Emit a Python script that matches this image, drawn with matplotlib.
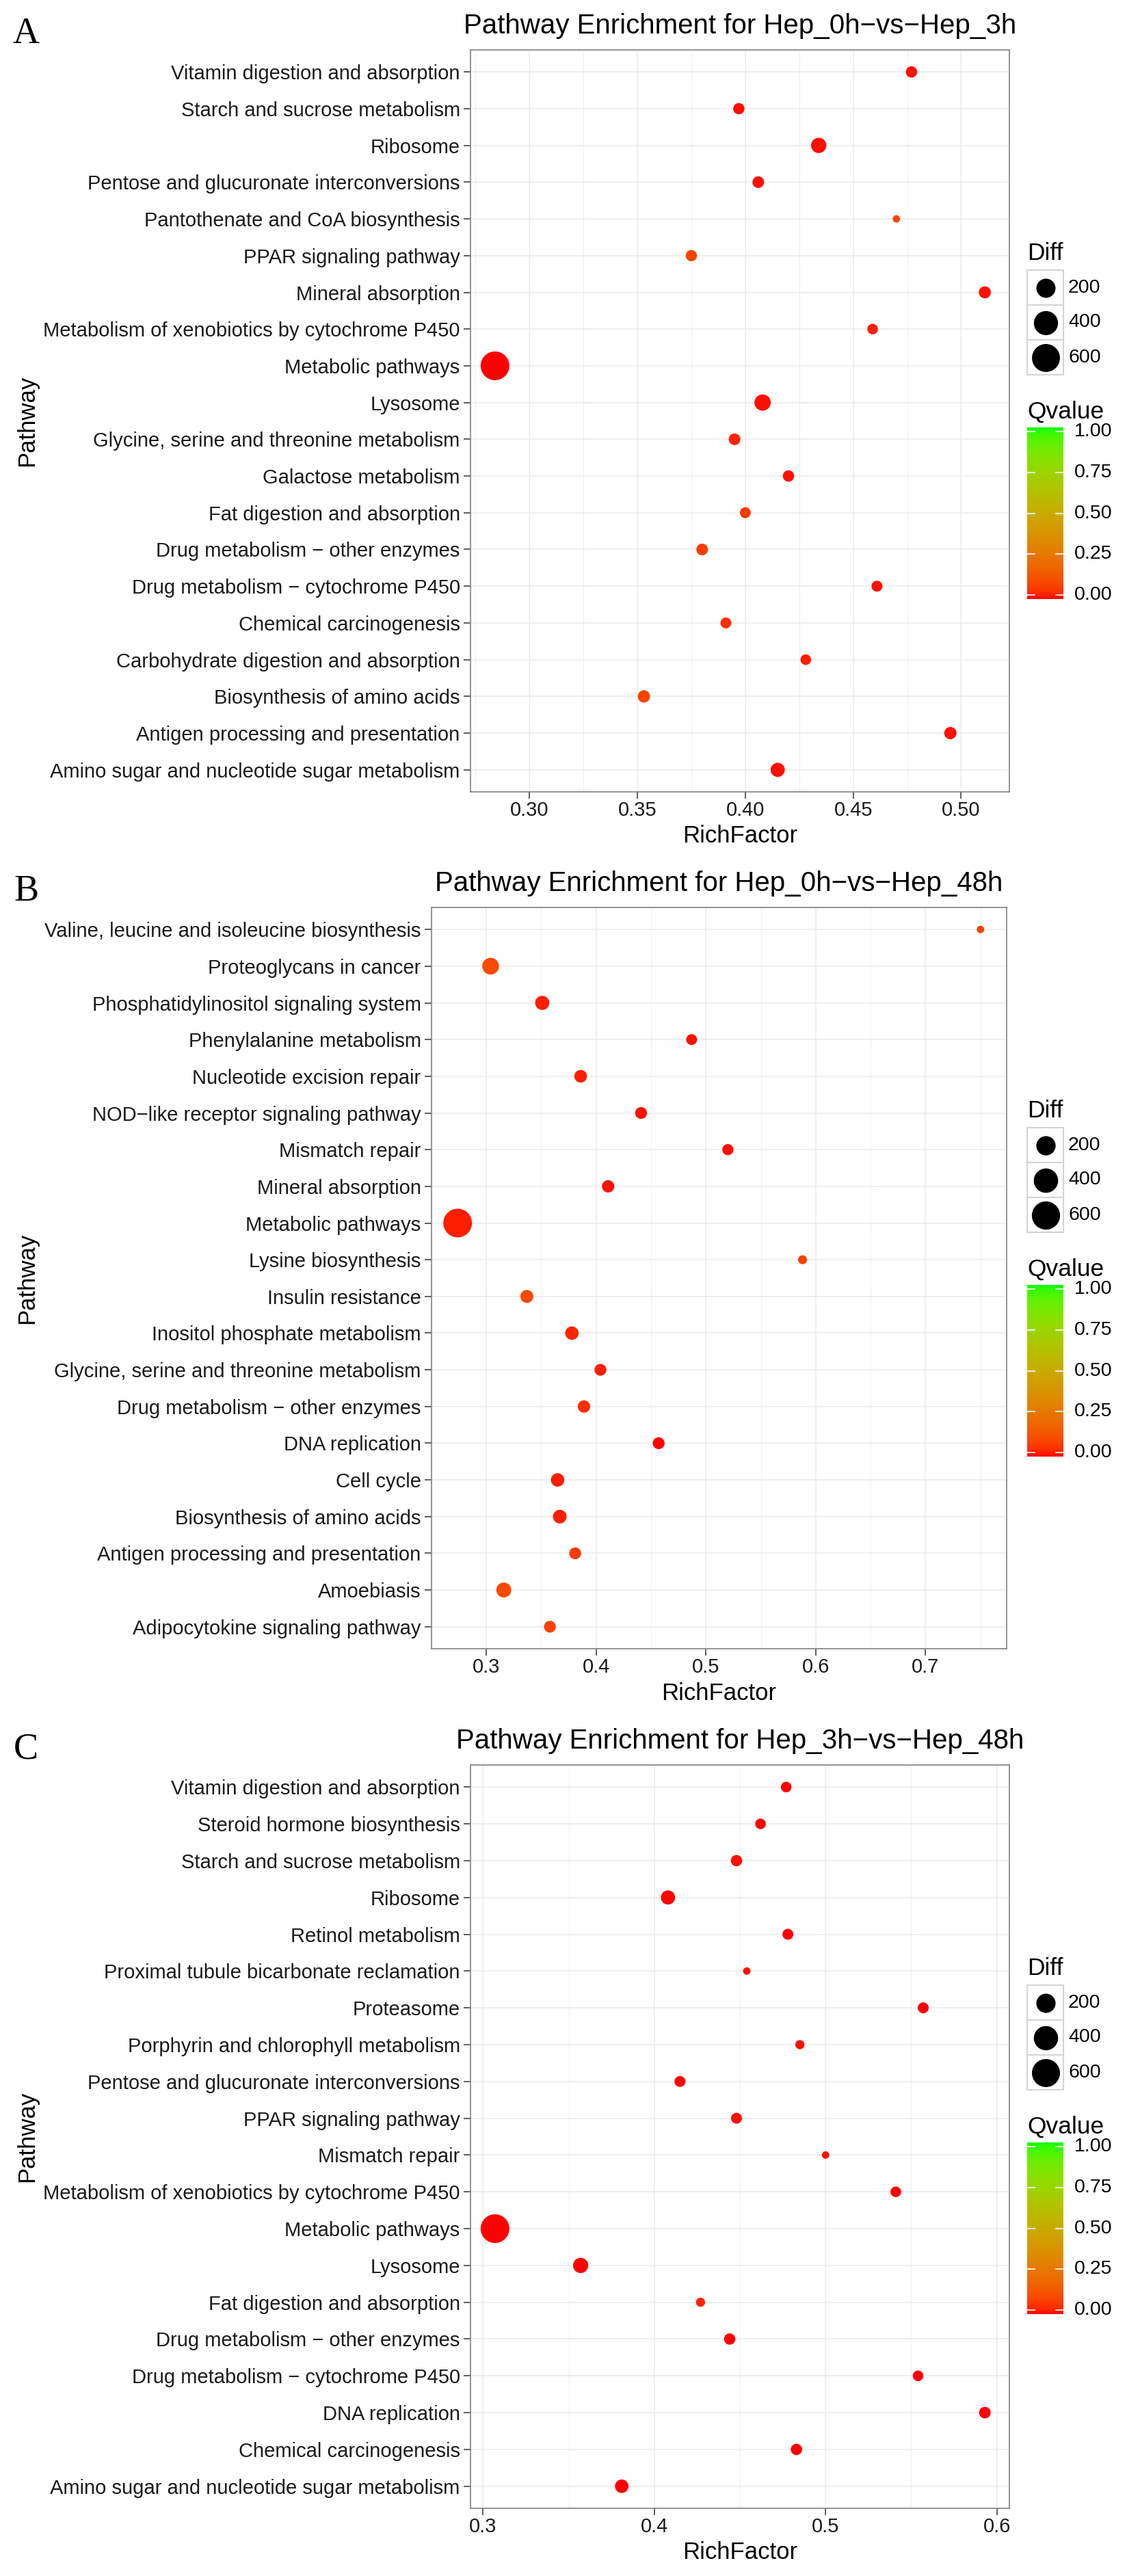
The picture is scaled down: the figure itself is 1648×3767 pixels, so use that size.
import numpy as np
import matplotlib
matplotlib.use("Agg")
import matplotlib.pyplot as plt
from matplotlib.colors import ListedColormap
from matplotlib.ticker import MultipleLocator, FormatStrFormatter
from matplotlib.patches import Rectangle

plt.rcParams['font.family'] = ['Liberation Sans', 'DejaVu Sans']

DPI = 100
W, H = 1648, 3767

# ---------------- data (top row first) ----------------
pathways_a = ["Vitamin digestion and absorption", "Starch and sucrose metabolism", "Ribosome",
              "Pentose and glucuronate interconversions", "Pantothenate and CoA biosynthesis",
              "PPAR signaling pathway", "Mineral absorption",
              "Metabolism of xenobiotics by cytochrome P450", "Metabolic pathways", "Lysosome",
              "Glycine, serine and threonine metabolism", "Galactose metabolism",
              "Fat digestion and absorption", "Drug metabolism \u2212 other enzymes",
              "Drug metabolism \u2212 cytochrome P450", "Chemical carcinogenesis",
              "Carbohydrate digestion and absorption", "Biosynthesis of amino acids",
              "Antigen processing and presentation", "Amino sugar and nucleotide sugar metabolism"]
rich_a = [0.477, 0.397, 0.434, 0.406, 0.470, 0.375, 0.511, 0.459, 0.284, 0.408,
          0.395, 0.420, 0.400, 0.380, 0.461, 0.391, 0.428, 0.353, 0.495, 0.415]
diff_a = [29, 29, 94, 33, 8, 29, 38, 22, 645, 118, 33, 29, 25, 33, 25, 25, 22, 41, 41, 71]
q_a = [0.01, 0.01, 0.01, 0.01, 0.09, 0.09, 0.01, 0.02, 0.0, 0.01,
       0.03, 0.01, 0.07, 0.07, 0.01, 0.05, 0.02, 0.08, 0.01, 0.01]

pathways_b = ["Valine, leucine and isoleucine biosynthesis", "Proteoglycans in cancer",
              "Phosphatidylinositol signaling system", "Phenylalanine metabolism",
              "Nucleotide excision repair", "NOD\u2212like receptor signaling pathway",
              "Mismatch repair", "Mineral absorption", "Metabolic pathways", "Lysine biosynthesis",
              "Insulin resistance", "Inositol phosphate metabolism",
              "Glycine, serine and threonine metabolism", "Drug metabolism \u2212 other enzymes",
              "DNA replication", "Cell cycle", "Biosynthesis of amino acids",
              "Antigen processing and presentation", "Amoebiasis", "Adipocytokine signaling pathway"]
rich_b = [0.750, 0.304, 0.351, 0.487, 0.386, 0.441, 0.520, 0.411, 0.274, 0.588,
          0.337, 0.378, 0.404, 0.389, 0.457, 0.365, 0.367, 0.381, 0.316, 0.358]
diff_b = [6, 125, 68, 22, 43, 33, 25, 39, 630, 9, 48, 55, 33, 39, 33, 55, 59, 33, 83, 33]
q_b = [0.08, 0.10, 0.02, 0.01, 0.02, 0.01, 0.01, 0.01, 0.02, 0.08,
       0.10, 0.03, 0.02, 0.04, 0.0, 0.02, 0.02, 0.07, 0.10, 0.08]

pathways_c = ["Vitamin digestion and absorption", "Steroid hormone biosynthesis",
              "Starch and sucrose metabolism", "Ribosome", "Retinol metabolism",
              "Proximal tubule bicarbonate reclamation", "Proteasome",
              "Porphyrin and chlorophyll metabolism", "Pentose and glucuronate interconversions",
              "PPAR signaling pathway", "Mismatch repair",
              "Metabolism of xenobiotics by cytochrome P450", "Metabolic pathways", "Lysosome",
              "Fat digestion and absorption", "Drug metabolism \u2212 other enzymes",
              "Drug metabolism \u2212 cytochrome P450", "DNA replication", "Chemical carcinogenesis",
              "Amino sugar and nucleotide sugar metabolism"]
rich_c = [0.477, 0.462, 0.448, 0.408, 0.478, 0.454, 0.557, 0.485, 0.415, 0.448,
          0.500, 0.541, 0.307, 0.357, 0.427, 0.444, 0.554, 0.593, 0.483, 0.381]
diff_c = [19, 19, 26, 68, 22, 5, 22, 9, 22, 22, 5, 19, 640, 90, 9, 26, 19, 29, 26, 56]
q_c = [0.0, 0.0, 0.01, 0.0, 0.0, 0.01, 0.0, 0.01, 0.0, 0.01,
       0.01, 0.0, 0.0, 0.0, 0.03, 0.0, 0.0, 0.0, 0.0, 0.0]

size_breaks = [200, 400, 600]
q_breaks = [0.0, 0.25, 0.5, 0.75, 1.0]

# text sizes (pt at 100 dpi)
FS_TICK = 21
FS_AXIS = 25
FS_TITLE = 29
FS_LEGT = 25.5
FS_LEGL = 20.5


# ---------------- red -> green ramp in Lab space ----------------
M = np.array([[0.4124, 0.3576, 0.1805],
              [0.2126, 0.7152, 0.0722],
              [0.0193, 0.1192, 0.9505]])
WHITE = np.array([0.95047, 1.0, 1.08883])


def to_lab(rgb):
    rgb = np.asarray(rgb, float)
    lin = np.where(rgb <= 0.04045, rgb / 12.92, ((rgb + 0.055) / 1.055) ** 2.4)
    xyz = M @ lin / WHITE
    f = np.where(xyz > 0.008856, np.cbrt(xyz), 7.787 * xyz + 16 / 116)
    return np.array([116 * f[1] - 16, 500 * (f[0] - f[1]), 200 * (f[1] - f[2])])


def from_lab(lab):
    L, a, b = lab
    fy = (L + 16) / 116
    f = np.array([fy + a / 500, fy, fy - b / 200])
    xyz = np.where(f ** 3 > 0.008856, f ** 3, (f - 16 / 116) / 7.787) * WHITE
    lin = np.clip(np.linalg.inv(M) @ xyz, 0, 1)
    srgb = np.where(lin <= 0.0031308, 12.92 * lin, 1.055 * lin ** (1 / 2.4) - 0.055)
    return np.clip(srgb, 0, 1)


lab_lo, lab_hi = to_lab([1, 0, 0]), to_lab([0, 1, 0])
ramp = [from_lab(lab_lo + t * (lab_hi - lab_lo)) for t in np.linspace(0, 1, 256)]
cmap = ListedColormap(ramp)


def dot_area(v, lo, hi):
    # ggplot-like scale_size: radius grows with sqrt of rescaled value
    v = np.asarray(v, float)
    s = 1 + 5 * np.sqrt(np.clip((v - lo) / (hi - lo), 0, 1))
    d_px = 4.68 + 6.22 * s
    return (d_px * 72 / DPI) ** 2


fig = plt.figure(figsize=(W / DPI, H / DPI), dpi=DPI)
fig.patch.set_facecolor('white')


def panel(letter, title, names, rich, diff, q, box, step, fmt):
    l, t, r, b = box
    ax = fig.add_axes([l / W, 1 - b / H, (r - l) / W, (b - t) / H])
    n = len(names)
    ypos = np.arange(n)
    lo, hi = min(diff), max(diff)
    ax.scatter(rich, ypos, s=dot_area(diff, lo, hi), c=q, cmap=cmap, vmin=0, vmax=1,
               linewidths=0, zorder=3)
    ax.set_yticks(ypos)
    ax.set_yticklabels(names)
    ax.set_ylim(n - 0.4, -0.6)
    pad = 0.05 * (max(rich) - min(rich))
    ax.set_xlim(min(rich) - pad, max(rich) + pad)
    ax.xaxis.set_major_locator(MultipleLocator(step))
    ax.xaxis.set_minor_locator(MultipleLocator(step / 2))
    ax.xaxis.set_major_formatter(FormatStrFormatter(fmt))
    ax.set_axisbelow(True)
    ax.grid(which='major', color='#ebebeb', lw=1.1)
    ax.grid(which='minor', axis='x', color='#ebebeb', lw=0.55)
    ax.tick_params(which='major', length=7, width=1.1, color='#333333',
                   labelsize=FS_TICK, labelcolor='#1a1a1a')
    ax.tick_params(axis='x', pad=2.5)
    ax.tick_params(axis='y', pad=4)
    ax.tick_params(which='minor', length=0)
    for sp in ax.spines.values():
        sp.set_color('#808080')
        sp.set_linewidth(1.2)
    ax.set_xlabel('RichFactor', fontsize=FS_AXIS)
    ax.xaxis.set_label_coords(0.5, -65 / (b - t))
    ax.xaxis.label.set_va('center')

    fig.text((l + r) / 2 / W, 1 - (t - 35) / H, title, ha='center', va='center',
             fontsize=FS_TITLE)
    fig.text(38 / W, 1 - (t - 23) / H, letter, family='Liberation Serif', fontsize=39,
             ha='center', va='center')
    fig.text(40 / W, 1 - ((t + b) / 2) / H, 'Pathway', rotation=90, ha='center',
             va='center', fontsize=FS_AXIS)

    # size legend
    lx = 1502
    fig.text(lx / W, 1 - (t + 298) / H, 'Diff', ha='left', va='center', fontsize=FS_LEGT)
    lax = fig.add_axes([lx / W, 1 - (t + 475) / H, 53 / W, 153 / H])
    lax.set_xlim(0, 53)
    lax.set_ylim(153, 0)
    lax.axis('off')
    for j, val in enumerate(size_breaks):
        lax.add_patch(Rectangle((0, j * 51), 53, 51, fc='white', ec='#d4d4d4', lw=1.5,
                                clip_on=False))
        lax.scatter([26.5], [j * 51 + 25.5], s=dot_area(val, lo, hi), color='black',
                    linewidths=0, zorder=3, clip_on=False)
        lax.text(60, j * 51 + 25.5, str(val), va='center', ha='left', fontsize=FS_LEGL)

    # colour bar
    fig.text(lx / W, 1 - (t + 529) / H, 'Qvalue', ha='left', va='center', fontsize=FS_LEGT)
    cax = fig.add_axes([lx / W, 1 - (t + 803) / H, 53 / W, 251 / H])
    ext = 0.0273
    grad = np.linspace(0, 1, 256)[:, None]
    cax.imshow(grad, aspect='auto', cmap=cmap, origin='lower', extent=[0, 1, -ext, 1 + ext])
    cax.set_xlim(0, 1)
    cax.set_ylim(-ext, 1 + ext)
    cax.axis('off')
    for v in q_breaks:
        cax.plot([0, 0.2], [v, v], color='white', lw=1.2)
        cax.plot([0.8, 1], [v, v], color='white', lw=1.2)
        cax.text(1.3, v, '%.2f' % v, va='center', ha='left', fontsize=FS_LEGL, clip_on=False)


panel('A', 'Pathway Enrichment for Hep_0h\u2212vs\u2212Hep_3h', pathways_a, rich_a, diff_a, q_a,
      (688, 73, 1476, 1158), 0.05, '%.2f')
panel('B', 'Pathway Enrichment for Hep_0h\u2212vs\u2212Hep_48h', pathways_b, rich_b, diff_b, q_b,
      (631, 1327, 1472, 2411), 0.1, '%.1f')
panel('C', 'Pathway Enrichment for Hep_3h\u2212vs\u2212Hep_48h', pathways_c, rich_c, diff_c, q_c,
      (688, 2581, 1476, 3668), 0.1, '%.1f')

fig.savefig('out.png', dpi=DPI)
